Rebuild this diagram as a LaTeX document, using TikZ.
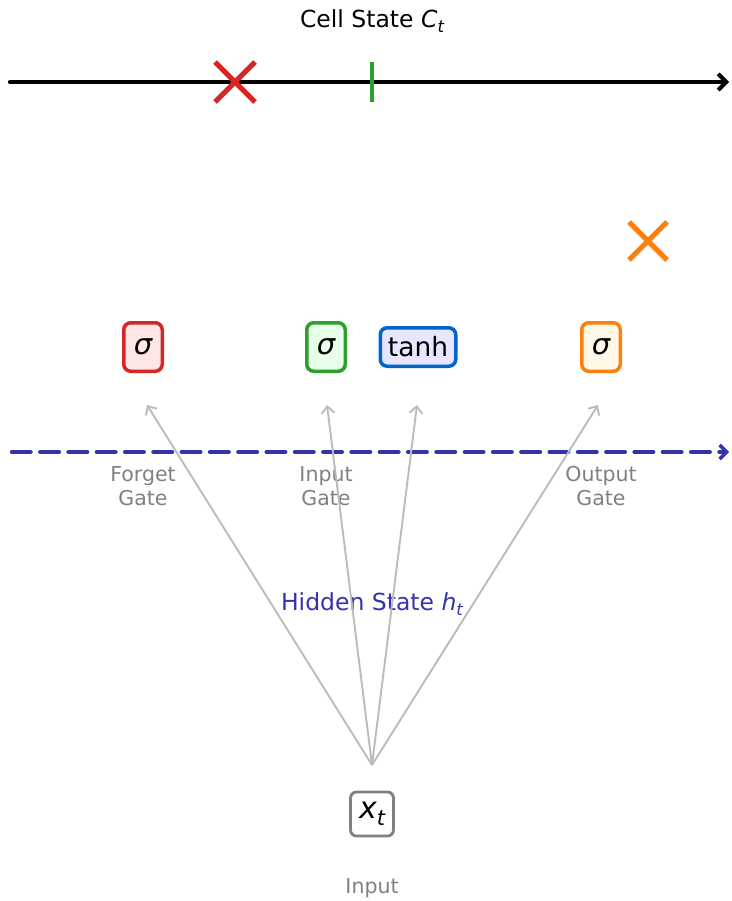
\documentclass[tikz,border=0pt]{standalone}
\usepackage{fontspec}
\setmainfont{DejaVu Sans}
\usetikzlibrary{arrows.meta,calc}
\definecolor{cred}{HTML}{D62728}
\definecolor{cgreen}{HTML}{2CA02C}
\definecolor{corange}{HTML}{FF7F0E}
\definecolor{cblue}{HTML}{0066CC}
\definecolor{hblue}{HTML}{3333AA}
\definecolor{lgray}{HTML}{BBBBBB}
\definecolor{tgray}{HTML}{808080}
\definecolor{fred}{HTML}{FFE6E6}
\definecolor{fgreen}{HTML}{E6FFE6}
\definecolor{fblue}{HTML}{E6E6FF}
\definecolor{forange}{HTML}{FFF8E6}
\newcommand\subit[1]{\raisebox{-0.35ex}{\fontsize{16.5}{16.5}\selectfont\itshape #1}}
\tikzset{
  gatebox/.style={draw, line width=3.5pt, rounded corners=7pt, inner sep=0pt, minimum width=38.5pt, minimum height=48.5pt, font=\fontsize{29}{29}\selectfont\itshape},
  lbl/.style={text=tgray, font=\fontsize{20.5}{24}\selectfont, align=center},
  feed/.style={draw=lgray, line width=1.9pt, -{Straight Barb[length=7pt,width=13pt,line width=1.9pt]}},
}
\begin{document}
\begin{tikzpicture}[x=1pt,y=-1pt]
\useasboundingbox (0,0) rectangle (731,901);
% cell state
\node (title) at (372,21) {\fontsize{23.5}{26}\selectfont Cell State \textit{C}\subit{t}};
\coordinate (cs0) at (10,82);
\coordinate (cs1) at (729,82);
\draw[line width=4.2pt, line cap=round, -{Straight Barb[length=8pt,width=16pt,line width=4pt]}] (cs0) -- (cs1);
\coordinate (rx) at (235,82);
\draw[cred, line width=5pt] ($(rx)+(-20,-20)$) -- ($(rx)+(20,20)$) ($(rx)+(-20,20)$) -- ($(rx)+(20,-20)$);
\coordinate (gt) at (372,82);
\draw[cgreen, line width=4.5pt] ($(gt)+(0,-20)$) -- ($(gt)+(0,20)$);
\coordinate (ox) at (648,241);
\draw[corange, line width=5pt] ($(ox)+(-19,-19)$) -- ($(ox)+(19,19)$) ($(ox)+(-19,19)$) -- ($(ox)+(19,-19)$);
% gates
\node[gatebox, draw=cred, fill=fred] (fg) at (143,347) {σ};
\node[gatebox, draw=cgreen, fill=fgreen] (ig) at (326,347) {σ};
\node[gatebox, draw=cblue, fill=fblue, minimum width=75.5pt, minimum height=38.5pt, font=\fontsize{26.5}{26.5}\selectfont] (th) at (418,347) {tanh};
\node[gatebox, draw=corange, fill=forange] (og) at (601,347) {σ};
% hidden state line
\coordinate (h0) at (12,452);
\coordinate (h1) at (729,452);
\draw[hblue, line width=4.5pt, line cap=round, dash pattern=on 18.5pt off 9.8pt, -{Straight Barb[length=7pt,width=14pt,line width=3.5pt]}] (h0) -- (h1);
\node[lbl] (lf) at (143,486) {Forget\\Gate};
\node[lbl] (li) at (326,486) {Input\\Gate};
\node[lbl] (lo) at (601,486) {Output\\Gate};
\node[text=hblue, font=\fontsize{23.5}{26}\selectfont] (hs) at (372,604) {Hidden State \textit{h}\subit{t}};
% input
\node[draw=tgray, line width=2.8pt, rounded corners=6pt, fill=white, minimum width=43pt, minimum height=44pt, inner sep=0pt, font=\fontsize{30}{30}\selectfont\itshape] (xt) at (372,814) {x\raisebox{-0.4ex}{\fontsize{21}{21}\selectfont t}};
\node[lbl] (lin) at (372,888) {Input};
\coordinate (src) at (372,765);
\coordinate (e1) at (147,405);
\coordinate (e2) at (327,405);
\coordinate (e3) at (417,405);
\coordinate (e4) at (598,405);
\foreach \e in {e1,e2,e3,e4} \draw[feed] (src) -- (\e);
\end{tikzpicture}
\end{document}
